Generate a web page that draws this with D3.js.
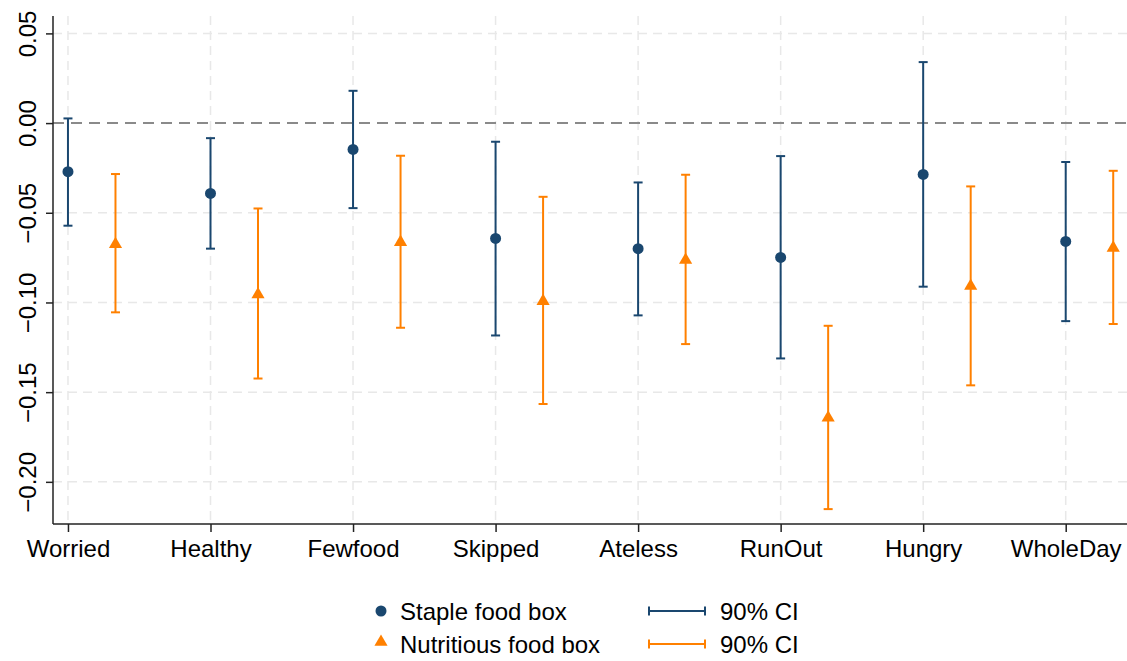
<!DOCTYPE html>
<html>
<head>
<meta charset="utf-8">
<script src="https://cdn.jsdelivr.net/npm/d3@7"></script>
<style>
    body { margin: 0; background: #fff; }
    svg { display: block; font-family: "Liberation Sans", Arial, Helvetica, sans-serif; }
</style>
</head>
<body>
<svg width="1127" height="661"></svg>
<script>
const width = 1127;
const height = 661;

const categories = ["Worried", "Healthy", "Fewfood", "Skipped", "Ateless", "RunOut", "Hungry", "WholeDay"];

const stapleEst = [-0.0271, -0.0392, -0.0147, -0.0643, -0.0700, -0.0749, -0.0286, -0.0660];
const stapleLo = [-0.0572, -0.0700, -0.0474, -0.1184, -0.1072, -0.1312, -0.0912, -0.1104];
const stapleHi = [0.0026, -0.0084, 0.0180, -0.0104, -0.0331, -0.0184, 0.0340, -0.0217];

const nutriEst = [-0.0670, -0.0950, -0.0658, -0.0987, -0.0758, -0.1637, -0.0903, -0.0690];
const nutriLo = [-0.1055, -0.1424, -0.1141, -0.1566, -0.1232, -0.2152, -0.1462, -0.1120];
const nutriHi = [-0.0284, -0.0476, -0.0182, -0.0411, -0.0288, -0.1130, -0.0353, -0.0266];

const yTicks = [0.05, 0, -0.05, -0.10, -0.15, -0.20];

const blue = "#1a476f";
const orange = "#ff8000";
const fontSize = 24;

const svg = d3.select("svg");

const x = d3.scaleLinear().domain([0.895, 8.43]).range([53, 1127]);
const y = d3.scaleLinear().domain([-0.2235, 0.0597]).range([524, 16]);

const series = [
    { name: "Staple food box", color: blue, shift: 0, est: stapleEst, lo: stapleLo, hi: stapleHi, marker: "circle" },
    { name: "Nutritious food box", color: orange, shift: 1 / 3, est: nutriEst, lo: nutriLo, hi: nutriHi, marker: "triangle" },
];

// grid
const grid = svg.append("g");
grid.selectAll("line.hgrid")
    .data(yTicks.filter(d => d !== 0))
    .enter()
    .append("line")
    .attr("x1", x.range()[0])
    .attr("x2", x.range()[1])
    .attr("y1", d => y(d))
    .attr("y2", d => y(d))
    .attr("stroke", "#e8e8e8")
    .attr("stroke-width", 1.5)
    .attr("stroke-dasharray", "9,6");

grid.selectAll("line.vgrid")
    .data(categories)
    .enter()
    .append("line")
    .attr("x1", (d, i) => x(i + 1))
    .attr("x2", (d, i) => x(i + 1))
    .attr("y1", y.range()[1])
    .attr("y2", y.range()[0])
    .attr("stroke", "#e8e8e8")
    .attr("stroke-width", 1.5)
    .attr("stroke-dasharray", "9,6");

svg.append("line")
    .attr("x1", x.range()[0])
    .attr("x2", x.range()[1])
    .attr("y1", y(0))
    .attr("y2", y(0))
    .attr("stroke", "#8a8a8a")
    .attr("stroke-width", 2)
    .attr("stroke-dasharray", "11,7");

// axes
const yAxis = svg.append("g")
    .attr("transform", `translate(${x.range()[0]},0)`)
    .call(d3.axisLeft(y).tickValues(yTicks).tickFormat(d3.format(".2f")).tickSize(7).tickPadding(0));

yAxis.select(".domain").attr("stroke", "#222").attr("stroke-width", 1.5).attr("d", `M0,${y.range()[1]}V${y.range()[0]}`);
yAxis.selectAll(".tick line").attr("stroke", "#222").attr("stroke-width", 1.5);
yAxis.selectAll(".tick text")
    .attr("x", null)
    .attr("dy", null)
    .attr("transform", "translate(-17,0) rotate(-90)")
    .attr("text-anchor", "middle")
    .attr("fill", "#000")
    .style("font-size", fontSize + "px")
    .style("font-family", "'Liberation Sans', Arial, sans-serif");

const xAxis = svg.append("g")
    .attr("transform", `translate(0,${y.range()[0]})`)
    .call(d3.axisBottom(x).tickValues(d3.range(1, categories.length + 1)).tickFormat(d => categories[d - 1]).tickSize(8).tickPadding(8));

xAxis.select(".domain").attr("stroke", "#222").attr("stroke-width", 1.5).attr("d", `M${x.range()[0]},0H${x.range()[1]}`);
xAxis.selectAll(".tick line").attr("stroke", "#222").attr("stroke-width", 1.5);
xAxis.selectAll(".tick text")
    .attr("fill", "#000")
    .style("font-size", fontSize + "px")
    .style("font-family", "'Liberation Sans', Arial, sans-serif");

// error bars and markers
const capHalf = 4.5;
const triangle = d3.symbol().type(d3.symbolTriangle).size(75);

series.forEach(s => {
    const g = svg.append("g");
    const rows = categories.map((c, i) => ({ pos: i + 1 + s.shift, est: s.est[i], lo: s.lo[i], hi: s.hi[i] }));

    g.selectAll("line.ci")
        .data(rows)
        .enter()
        .append("line")
        .attr("x1", d => x(d.pos))
        .attr("x2", d => x(d.pos))
        .attr("y1", d => y(d.lo))
        .attr("y2", d => y(d.hi))
        .attr("stroke", s.color)
        .attr("stroke-width", 2);

    ["lo", "hi"].forEach(k => {
        g.selectAll("line.cap" + k)
            .data(rows)
            .enter()
            .append("line")
            .attr("x1", d => x(d.pos) - capHalf)
            .attr("x2", d => x(d.pos) + capHalf)
            .attr("y1", d => y(d[k]))
            .attr("y2", d => y(d[k]))
            .attr("stroke", s.color)
            .attr("stroke-width", 2);
    });

    if (s.marker === "circle") {
        g.selectAll("circle")
            .data(rows)
            .enter()
            .append("circle")
            .attr("cx", d => x(d.pos))
            .attr("cy", d => y(d.est))
            .attr("r", 5.5)
            .attr("fill", s.color);
    } else {
        g.selectAll("path.mk")
            .data(rows)
            .enter()
            .append("path")
            .attr("d", triangle)
            .attr("transform", d => `translate(${x(d.pos)},${y(d.est) + 1})`)
            .attr("fill", s.color);
    }
});

// legend
const legend = svg.append("g");
const legendRows = [611, 644];

series.forEach((s, i) => {
    const row = legend.append("g").attr("transform", `translate(0,${legendRows[i]})`);
    if (s.marker === "circle") {
        row.append("circle").attr("cx", 381).attr("cy", 0).attr("r", 5.5).attr("fill", s.color);
    } else {
        row.append("path").attr("d", triangle).attr("transform", "translate(381,-2)").attr("fill", s.color);
    }
    row.append("text")
        .text(s.name)
        .attr("x", 400)
        .attr("dominant-baseline", "central")
        .style("font-size", fontSize + "px");

    row.append("line").attr("x1", 649).attr("x2", 705).attr("y1", 0).attr("y2", 0)
        .attr("stroke", s.color).attr("stroke-width", 2);
    [649, 705].forEach(cx => {
        row.append("line").attr("x1", cx).attr("x2", cx).attr("y1", -capHalf).attr("y2", capHalf)
            .attr("stroke", s.color).attr("stroke-width", 2);
    });
    row.append("text")
        .text("90% CI")
        .attr("x", 720)
        .attr("dominant-baseline", "central")
        .style("font-size", fontSize + "px");
});
</script>
</body>
</html>
